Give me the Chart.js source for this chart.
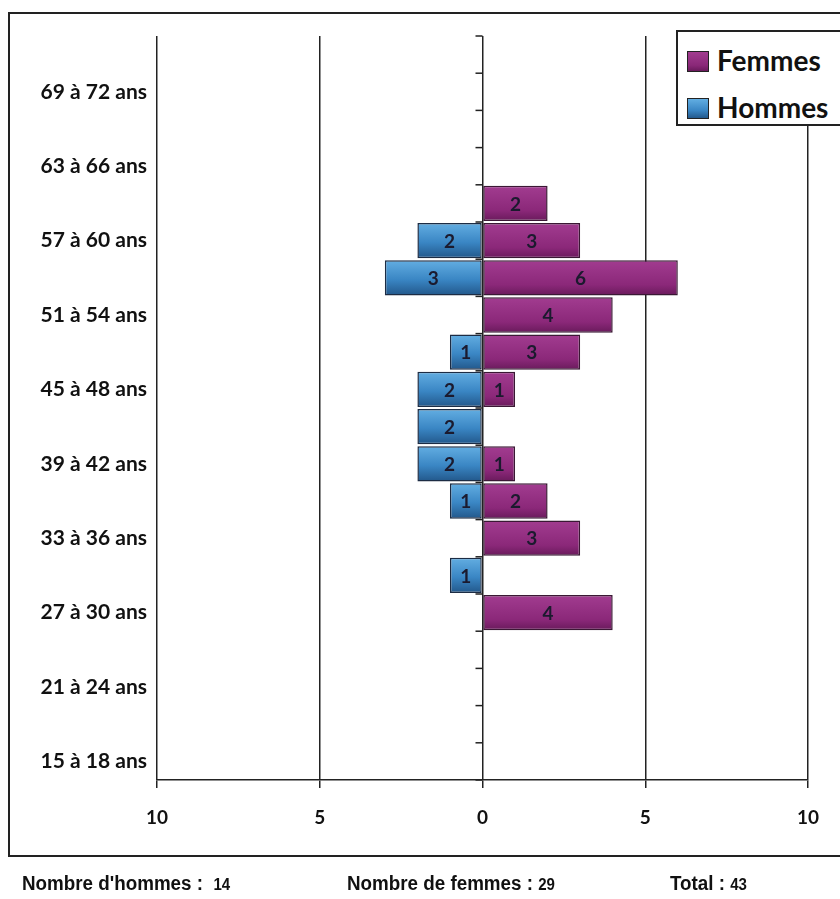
<!DOCTYPE html>
<html lang="fr">
<head>
<meta charset="utf-8">
<title>Pyramide des âges</title>
<script src="https://cdn.jsdelivr.net/npm/chart.js@4.4.1/dist/chart.umd.min.js"></script>
<style>
  html, body { margin: 0; padding: 0; background: #fff; }
  #wrap { position: relative; width: 840px; height: 899px; overflow: hidden; }
  #frame { position: absolute; left: 8px; top: 12px; width: 850px; height: 845px; border: 2px solid #222; box-sizing: border-box; }
  #cv { position: absolute; left: 0; top: 0; }
  #legend { position: absolute; left: 676px; top: 30px; width: 180px; height: 96px; border: 2px solid #222; background: #fff; box-sizing: border-box;
            font-family: Lato, "Open Sans", sans-serif; font-weight: 700; font-size: 28px; color: #111; }
  .item { position: absolute; left: 9px; height: 32px; line-height: 32px; white-space: nowrap; }
  .sw { display: inline-block; width: 20px; height: 19px; border: 1px solid #222; vertical-align: -1px; margin-right: 8px; }
  .foot { position: absolute; top: 872px; font-family: "Liberation Sans", Arial, sans-serif; font-weight: 700; font-size: 20px; color: #111;
          white-space: nowrap; transform: scaleX(0.94); transform-origin: left center; }
  .foot span { font-size: 16px; }
</style>
</head>
<body>
<div id="wrap">
  <div id="frame"></div>
  <canvas id="cv" width="840" height="899"></canvas>
  <div id="legend">
    <div class="item" style="top:12px"><span class="sw" style="background:linear-gradient(#a23c90,#8a2878 70%,#6a1a5c)"></span>Femmes</div>
    <div class="item" style="top:59px"><span class="sw" style="background:linear-gradient(#62aee2,#3a86c4 60%,#23598c)"></span>Hommes</div>
  </div>
  <div class="foot" style="left:22px">Nombre d'hommes :&nbsp; <span id="nH"></span></div>
  <div class="foot" style="left:347px">Nombre de femmes : <span id="nF"></span></div>
  <div class="foot" style="left:670px">Total : <span id="nT"></span></div>
</div>
<script>
// Age groups, from youngest to oldest
const ageGroups = [
  "15 à 18 ans", "18 à 21 ans", "21 à 24 ans", "24 à 27 ans", "27 à 30 ans",
  "30 à 33 ans", "33 à 36 ans", "36 à 39 ans", "39 à 42 ans", "42 à 45 ans",
  "45 à 48 ans", "48 à 51 ans", "51 à 54 ans", "54 à 57 ans", "57 à 60 ans",
  "60 à 63 ans", "63 à 66 ans", "66 à 69 ans", "69 à 72 ans", "72 à 75 ans"
];
// Head counts per age group
const hommes = [0, 0, 0, 0, 0, 1, 0, 1, 2, 2, 2, 1, 0, 3, 2, 0, 0, 0, 0, 0];
const femmes = [0, 0, 0, 0, 4, 0, 3, 2, 1, 0, 1, 3, 4, 6, 3, 2, 0, 0, 0, 0];
// Horizontal axis ticks (absolute values shown on both sides)
const xTicks = [-10, -5, 0, 5, 10];

const totalH = hommes.reduce((a, b) => a + b, 0);
const totalF = femmes.reduce((a, b) => a + b, 0);
document.getElementById('nH').textContent = totalH;
document.getElementById('nF').textContent = totalF;
document.getElementById('nT').textContent = totalH + totalF;

const BAR_PCT = 0.95;
const LABEL_FONT = 'Lato, "Open Sans", sans-serif';

function barGradient(ctx, stops, fallback) {
  const chart = ctx.chart;
  const ys = chart.scales.y;
  if (!ys || !chart.chartArea || ctx.type !== 'data') return fallback;
  const c = ys.getPixelForValue(ctx.dataIndex);
  const h = (chart.chartArea.bottom - chart.chartArea.top) / ageGroups.length * BAR_PCT;
  const g = chart.ctx.createLinearGradient(0, c - h / 2, 0, c + h / 2);
  stops.forEach(([o, col]) => g.addColorStop(o, col));
  return g;
}

// Short tick marks on the zero axis, at the edges of each age group
const zeroAxisTicks = {
  id: 'zeroAxisTicks',
  afterDraw(chart) {
    const { ctx, scales: { x, y } } = chart;
    const x0 = x.getPixelForValue(0);
    const n = ageGroups.length;
    const step = Math.abs(y.getPixelForValue(1) - y.getPixelForValue(0));
    ctx.save();
    ctx.strokeStyle = '#222';
    ctx.lineWidth = 1.5;
    for (let i = 0; i <= n; i++) {
      const py = y.getPixelForValue(i) + step / 2;
      ctx.beginPath();
      ctx.moveTo(x0 - 7, py);
      ctx.lineTo(x0, py);
      ctx.stroke();
    }
    ctx.restore();
  }
};

// Value written in the middle of each bar
const barValues = {
  id: 'barValues',
  afterDatasetsDraw(chart) {
    const { ctx } = chart;
    ctx.save();
    ctx.font = 'bold 19px ' + LABEL_FONT;
    ctx.textAlign = 'center';
    ctx.textBaseline = 'middle';
    ctx.fillStyle = '#1b1a2e';
    chart.data.datasets.forEach((ds, di) => {
      const meta = chart.getDatasetMeta(di);
      meta.data.forEach((bar, i) => {
        const v = ds.data[i];
        if (v === null || v === 0) return;
        const cx = (bar.x + bar.base) / 2;
        ctx.fillText(String(Math.abs(v)), cx, bar.y + 1);
      });
    });
    ctx.restore();
  }
};

new Chart(document.getElementById('cv'), {
  type: 'bar',
  data: {
    labels: ageGroups,
    datasets: [
      {
        label: 'Hommes',
        data: hommes.map(v => (v ? -v : null)),
        backgroundColor: c => barGradient(c, [[0, '#63aee2'], [0.55, '#3a86c4'], [1, '#22578a']], '#3a86c4'),
        borderColor: '#1c2c44',
        borderWidth: 1.5,
        borderSkipped: false,
        barPercentage: BAR_PCT,
        categoryPercentage: 1
      },
      {
        label: 'Femmes',
        data: femmes.map(v => (v ? v : null)),
        backgroundColor: c => barGradient(c, [[0, '#a23c90'], [0.7, '#8b2879'], [1, '#691a5b']], '#8b2879'),
        borderColor: '#3a1834',
        borderWidth: 1.5,
        borderSkipped: false,
        barPercentage: BAR_PCT,
        categoryPercentage: 1
      }
    ]
  },
  options: {
    indexAxis: 'y',
    responsive: false,
    animation: false,
    devicePixelRatio: 1,
    layout: { padding: { left: 7, right: 32, top: 36, bottom: 69 } },
    plugins: { legend: { display: false }, tooltip: { enabled: false } },
    scales: {
      x: {
        stacked: true,
        min: -10,
        max: 10,
        afterBuildTicks: s => { s.ticks = xTicks.map(v => ({ value: v })); },
        afterFit: s => { s.height = 50; },
        ticks: {
          callback: v => String(Math.abs(v)),
          font: { family: LABEL_FONT, weight: 'bold', size: 19 },
          color: '#111',
          padding: 18,
          maxRotation: 0
        },
        grid: { color: '#222', lineWidth: 1.5, tickLength: 8, tickColor: '#222' },
        border: { display: true, color: '#222', width: 1.5 }
      },
      y: {
        stacked: true,
        reverse: true,
        afterFit: s => { s.width = 150; },
        ticks: {
          autoSkip: false,
          callback: (v, i) => (i % 2 === 0 ? ageGroups[i] : ''),
          font: { family: LABEL_FONT, weight: 'bold', size: 21 },
          color: '#111',
          padding: 10
        },
        grid: { display: false, drawTicks: false },
        border: { display: false }
      }
    }
  },
  plugins: [zeroAxisTicks, barValues]
});
</script>
</body>
</html>
